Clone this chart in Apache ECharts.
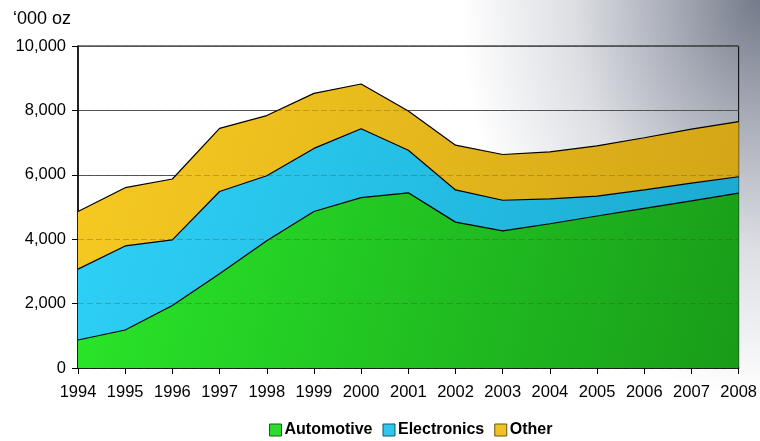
<!DOCTYPE html>
<html>
<head>
<meta charset="utf-8">
<script src="https://cdn.jsdelivr.net/npm/echarts@6/dist/echarts.min.js"></script>
<style>
  html, body { margin: 0; padding: 0; }
  #chart {
    width: 760px; height: 441px;
    background: radial-gradient(ellipse 300px 400px at 100% 0%, #737a89 0%, #a9adb8 30%, #dcdee3 62%, #ffffff 100%);
  }
</style>
</head>
<body>
<div id="chart"></div>
<script>
// Demand by end use, thousand ounces
const years = ['1994','1995','1996','1997','1998','1999','2000','2001','2002','2003','2004','2005','2006','2007','2008'];
const automotive  = [870, 1180, 1940, 2930, 3950, 4860, 5290, 5440, 4530, 4260, 4480, 4720, 4960, 5190, 5430];
const electronics = [2200, 2610, 2040, 2550, 2020, 1960, 2140, 1320, 1000, 950, 770, 620, 570, 550, 510];
const other       = [1790, 1810, 1890, 1960, 1870, 1710, 1390, 1220, 1390, 1420, 1460, 1560, 1620, 1680, 1710];
const yTicks = [0, 2000, 4000, 6000, 8000, 10000];

const chart = echarts.init(document.getElementById('chart'), null, { renderer: 'canvas' });

function fill(light, dark) {
  return new echarts.graphic.LinearGradient(0, 0, 1, 1, [
    { offset: 0, color: light },
    { offset: 1, color: dark }
  ]);
}

function areaSeries(name, data, light, dark) {
  return {
    name: name,
    type: 'line',
    stack: 'total',
    data: data,
    symbol: 'none',
    z: 2,
    lineStyle: { color: '#000', width: 1.2 },
    areaStyle: { color: fill(light, dark), opacity: 1 },
    itemStyle: { color: light, borderColor: '#333', borderWidth: 1 },
    emphasis: { disabled: true }
  };
}

const labelFont = { fontFamily: 'Liberation Sans, Arial, sans-serif', fontSize: 16.5, color: '#000' };

chart.setOption({
  animation: false,
  textStyle: { fontFamily: 'Liberation Sans, Arial, sans-serif' },
  title: {
    text: '\u2018000 oz',
    left: 8, top: 5,
    textStyle: { fontFamily: 'Liberation Sans, Arial, sans-serif', fontSize: 18, fontWeight: 'normal', color: '#000' }
  },
  grid: {
    left: 78, right: 21, top: 46, bottom: 73,
    show: true, borderColor: '#000', borderWidth: 1, backgroundColor: 'transparent'
  },
  legend: {
    top: 417,
    left: 264,
    itemWidth: 12, itemHeight: 12, itemGap: 10,
    textStyle: { fontFamily: 'Liberation Sans, Arial, sans-serif', fontSize: 16, fontWeight: 'bold', color: '#000', padding: [0, 0, 0, -2] },
    data: [
      { name: 'Automotive',  icon: 'rect', itemStyle: { color: '#2edc2e', borderColor: '#1d5d1d', borderWidth: 1 } },
      { name: 'Electronics', icon: 'rect', itemStyle: { color: '#2cc6ee', borderColor: '#17566a', borderWidth: 1 } },
      { name: 'Other',       icon: 'rect', itemStyle: { color: '#f0c223', borderColor: '#6a5613', borderWidth: 1 } }
    ]
  },
  xAxis: {
    type: 'category',
    data: years,
    boundaryGap: false,
    axisLine: { lineStyle: { color: '#000', width: 1.5 } },
    axisTick: { show: true, length: 6, interval: 0, lineStyle: { color: '#000' }, alignWithLabel: true },
    axisLabel: Object.assign({ margin: 16, interval: 0 }, labelFont),
    splitLine: { show: false }
  },
  yAxis: [
    {
      type: 'value',
      min: yTicks[0], max: yTicks[yTicks.length - 1], interval: 2000,
      axisLine: { show: true, lineStyle: { color: '#000', width: 1.5 } },
      axisTick: { show: true, length: 6, lineStyle: { color: '#000' } },
      axisLabel: Object.assign({
        margin: 12,
        formatter: v => v.toLocaleString('en-US')
      }, labelFont),
      splitLine: { show: true, lineStyle: { color: '#5a5a5a', width: 1.2 } }
    },
    {
      // faint dashed grid drawn over the filled areas
      type: 'value',
      min: yTicks[0], max: yTicks[yTicks.length - 1], interval: 2000,
      position: 'left',
      z: 5,
      axisLine: { show: false },
      axisTick: { show: false },
      axisLabel: { show: false },
      splitLine: { show: true, lineStyle: { color: 'rgba(60,60,30,0.28)', width: 1, type: [6, 3] } }
    }
  ],
  series: [
    areaSeries('Automotive',  automotive,  '#2ae82a', '#199c19'),
    areaSeries('Electronics', electronics, '#2fd2f8', '#1aa8cf'),
    areaSeries('Other',       other,       '#f7cb22', '#d3a417')
  ]
});
</script>
</body>
</html>
